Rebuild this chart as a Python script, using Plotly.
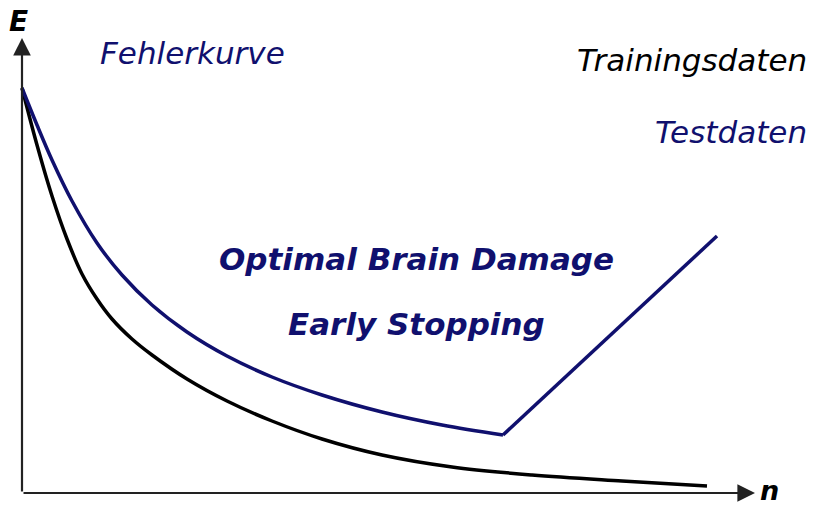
import plotly.graph_objects as go

# Training error curve (black)
train_n = [0, 15, 30, 45, 60, 75, 90, 110, 130, 165, 205, 250, 300, 360, 430, 510, 600, 685]
train_E = [405, 348, 297, 254, 219, 194, 174, 154, 138, 114, 92, 72, 54, 38, 26, 18, 12, 7]

# Test error curve (navy): decays to a minimum, then rises linearly
test_n = [0, 15, 30, 50, 75, 100, 130, 165, 205, 250, 300, 360, 420, 481, 695]
test_E = [405, 368, 333, 292, 250, 218, 188, 161, 137, 116, 98, 81, 68, 58, 257]

NAVY = "#10106e"
FONT = "DejaVu Sans, Verdana, sans-serif"

imin = test_E.index(min(test_E))

fig = go.Figure()
fig.add_trace(go.Scatter(x=train_n, y=train_E, mode="lines",
                         line=dict(color="black", width=3.5, shape="spline", smoothing=1.0),
                         hoverinfo="skip"))
fig.add_trace(go.Scatter(x=test_n[:imin + 1], y=test_E[:imin + 1], mode="lines",
                         line=dict(color=NAVY, width=3.5, shape="spline", smoothing=1.0),
                         hoverinfo="skip"))
fig.add_trace(go.Scatter(x=test_n[imin:], y=test_E[imin:], mode="lines",
                         line=dict(color=NAVY, width=3.5),
                         hoverinfo="skip"))

ann = []
# axes with arrows
ann.append(dict(x=733, y=0, ax=0, ay=0, xref="x", yref="y", axref="x", ayref="y",
                showarrow=True, arrowhead=2, arrowsize=1.6, arrowwidth=2.2,
                arrowcolor="#222", text=""))
ann.append(dict(x=0, y=455, ax=0, ay=0, xref="x", yref="y", axref="x", ayref="y",
                showarrow=True, arrowhead=2, arrowsize=1.6, arrowwidth=2.2,
                arrowcolor="#222", text=""))


def txt(x, y, s, color, size, bold=False, xanchor="center"):
    t = f"<i><b>{s}</b></i>" if bold else f"<i>{s}</i>"
    ann.append(dict(x=x, y=y, xref="x", yref="y", text=t, showarrow=False,
                    xanchor=xanchor, yanchor="middle",
                    font=dict(family=FONT, size=size, color=color)))


txt(-4, 472, "E", "black", 28, bold=True)
txt(747, 3, "n", "black", 27, bold=True)
txt(170, 440, "Fehlerkurve", NAVY, 31)
txt(787, 433, "Trainingsdaten", "black", 31, xanchor="right")
txt(787, 361, "Testdaten", NAVY, 31, xanchor="right")
txt(394, 234, "Optimal Brain Damage", NAVY, 31, bold=True)
txt(394, 169, "Early Stopping", NAVY, 31, bold=True)

fig.update_layout(
    width=814, height=506,
    margin=dict(l=0, r=0, t=0, b=0),
    paper_bgcolor="white", plot_bgcolor="white",
    showlegend=False,
    xaxis=dict(range=[-22, 792], visible=False, fixedrange=True),
    yaxis=dict(range=[-13, 493], visible=False, fixedrange=True),
    annotations=ann,
)

fig.write_html("out.html", config={"displayModeBar": False},
               post_script="document.body.style.margin='0';document.body.style.overflow='hidden';")
